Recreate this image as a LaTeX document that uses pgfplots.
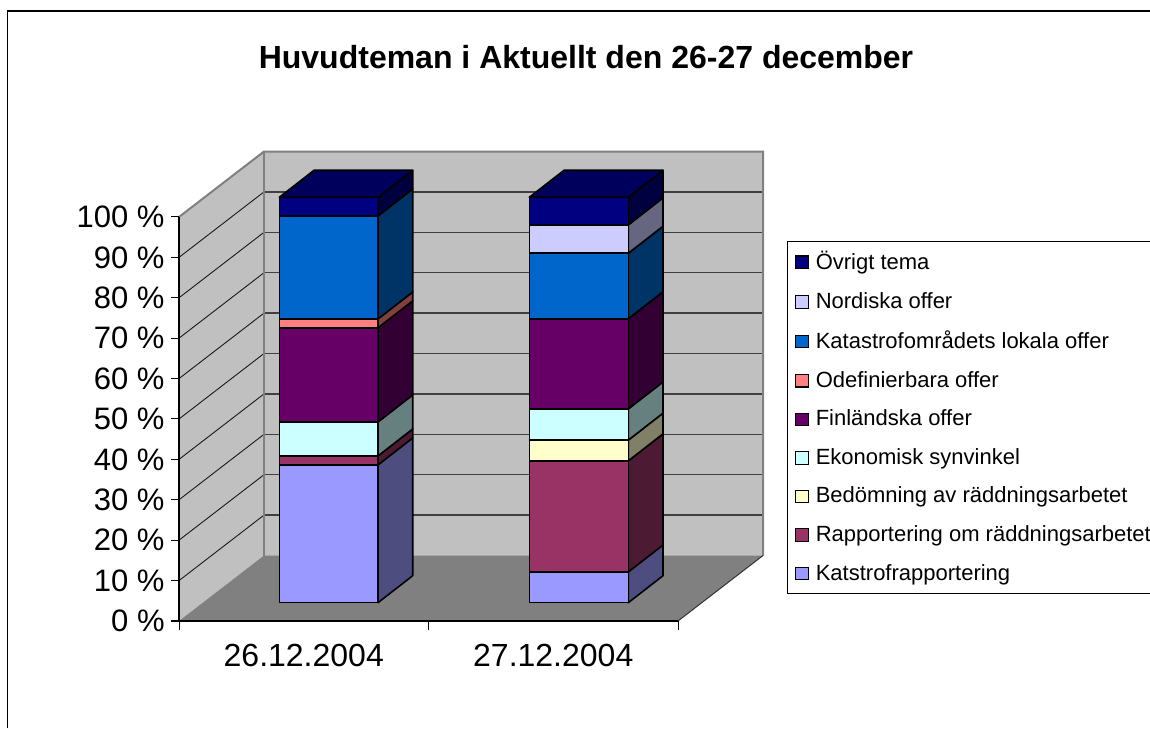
\documentclass[border=0pt]{standalone}
\usepackage{fontspec}
\setmainfont{Liberation Sans}
\usepackage{pgfplots}
\pgfplotsset{compat=1.18}
\definecolor{wall}{HTML}{C0C0C0}
\definecolor{floorc}{HTML}{808080}
\definecolor{kat}{HTML}{9999FF}\definecolor{kats}{HTML}{4D4D80}
\definecolor{rap}{HTML}{993366}\definecolor{raps}{HTML}{4D1A33}
\definecolor{bed}{HTML}{FFFFCC}\definecolor{beds}{HTML}{808066}
\definecolor{eko}{HTML}{CCFFFF}\definecolor{ekos}{HTML}{668080}
\definecolor{fin}{HTML}{660066}\definecolor{fins}{HTML}{330033}
\definecolor{ode}{HTML}{FF8080}\definecolor{odes}{HTML}{804040}
\definecolor{lok}{HTML}{0066CC}\definecolor{loks}{HTML}{003366}
\definecolor{nor}{HTML}{CCCCFF}\definecolor{nors}{HTML}{666680}
\definecolor{ovr}{HTML}{000080}\definecolor{ovrs}{HTML}{000040}\definecolor{ovrt}{HTML}{00005C}
% #1 x left, #2 x right, #3 lower, #4 upper, #5 front colour, #6 side colour
\newcommand{\seg}[6]{%
  \pgfmathsetmacro\xa{#1+0.0952}\pgfmathsetmacro\xb{#2+0.0952}\pgfmathsetmacro\xc{#2+0.0952+0.1391}%
  \pgfmathsetmacro\ya{#3*1.0035+4.53}\pgfmathsetmacro\yb{#4*1.0035+4.53}%
  \pgfmathsetmacro\yc{#3*1.0035+4.53+6.68}\pgfmathsetmacro\yd{#4*1.0035+4.53+6.68}%
  \addplot[forget plot,fill=#6,draw=black,line width=.8pt,line join=round] coordinates {(\xb,\ya)(\xc,\yc)(\xc,\yd)(\xb,\yb)} --cycle;
  \addplot[forget plot,fill=#5,draw=black,line width=.8pt,line join=round] coordinates {(\xa,\ya)(\xb,\ya)(\xb,\yb)(\xa,\yb)} --cycle;
}
\newcommand{\topface}[2]{%
  \pgfmathsetmacro\xa{#1+0.0952}\pgfmathsetmacro\xb{#2+0.0952}\pgfmathsetmacro\xc{#2+0.0952+0.1391}\pgfmathsetmacro\xd{#1+0.0952+0.1391}%
  \pgfmathsetmacro\yb{100*1.0035+4.53}\pgfmathsetmacro\yd{100*1.0035+4.53+6.68}%
  \addplot[forget plot,fill=ovrt,draw=black,line width=.8pt,line join=round] coordinates {(\xa,\yb)(\xb,\yb)(\xc,\yd)(\xd,\yd)} --cycle;
}
\begin{document}
\begin{tikzpicture}[x=.5pt,y=.5pt]
\useasboundingbox (0,0) rectangle (1150,728);
\fill[white] (0,0) rectangle (1150,728);
\draw[black,line width=.75pt] (7.5,0) -- (7.5,717) -- (1150,717);
\node[font=\bfseries\fontsize{16}{19}\selectfont,anchor=center] at (586,671) {Huvudteman i Aktuellt den 26-27 december};
\begin{axis}[
  at={(89.5pt,53.5pt)},anchor=south west,
  scale only axis,width=249.5pt,height=202pt,
  xmin=0,xmax=2,ymin=0,ymax=100,clip=false,
  axis lines=left,axis line style={-,black,line width=.6pt},axis on top,
  xtick={0.5,1.5},xticklabels={26.12.2004,27.12.2004},
  minor xtick={0,1,2},
  ytick={0,10,...,100},
  yticklabels={0 \%,10 \%,20 \%,30 \%,40 \%,50 \%,60 \%,70 \%,80 \%,90 \%,100 \%},
  major x tick style={draw=none},
  minor x tick style={black,line width=.5pt},
  y tick style={black,line width=.5pt},
  tick align=outside,
  major tick length=4pt,minor tick length=4.5pt,
  tick label style={font=\fontsize{15.5}{18}\selectfont},
  yticklabel style={inner sep=0pt,xshift=-3pt},
  xticklabel style={inner sep=0pt,yshift=-7.4pt,font=\fontsize{16}{19}\selectfont},
  legend style={at={(1.219,0.9406)},anchor=north west,draw=black,line width=.5pt,
    font=\fontsize{11}{13}\selectfont,row sep=7.8pt,inner xsep=3.5pt,inner ysep=4pt,
    fill=white,legend cell align=left,nodes={inner sep=1pt,inner xsep=3.5pt}},
  legend image code/.code={\draw[#1,line width=.6pt] (0,-3.1pt) rectangle (6.4pt,3.1pt);},
]
% walls and floor
\addplot[forget plot,fill=wall,draw=none] coordinates {(0,0)(.3407,16.21)(.3407,116.21)(0,100)} --cycle;
\addplot[forget plot,fill=wall,draw=none] coordinates {(.3407,16.21)(2.3407,16.21)(2.3407,116.21)(.3407,116.21)} --cycle;
\addplot[forget plot,fill=floorc,draw=none] coordinates {(0,0)(2,0)(2.3407,16.21)(.3407,16.21)} --cycle;
% gridlines
\foreach \p/\q in {10/26.21,20/36.21,30/46.21,40/56.21,50/66.21,60/76.21,70/86.21,80/96.21,90/106.21}{
  \edef\tmp{\noexpand\addplot[forget plot,color=black!75,line width=.7pt] coordinates {(.3407,\q)(2.3407,\q)};
  \noexpand\addplot[forget plot,color=black!90,line width=.45pt] coordinates {(0,\p)(.3407,\q)};}\tmp
}
% wall edges
\addplot[forget plot,color=floorc,line width=1pt] coordinates {(0,100)(.3407,116.21)(2.3407,116.21)(2.3407,16.21)};
\addplot[forget plot,color=floorc,line width=1pt] coordinates {(.3407,116.21)(.3407,16.21)};
\addplot[forget plot,color=black!80,line width=.5pt] coordinates {(2,0)(2.3407,16.21)};
% first bar
\seg{.3068}{.7024}{0}{34.0}{kat}{kats}
\seg{.3068}{.7024}{34.0}{36.2}{rap}{raps}
\seg{.3068}{.7024}{36.2}{44.6}{eko}{ekos}
\seg{.3068}{.7024}{44.6}{67.8}{fin}{fins}
\seg{.3068}{.7024}{67.8}{70.0}{ode}{odes}
\seg{.3068}{.7024}{70.0}{95.4}{lok}{loks}
\seg{.3068}{.7024}{95.4}{100}{ovr}{ovrs}
\topface{.3068}{.7024}
% second bar
\seg{1.3088}{1.7056}{0}{7.6}{kat}{kats}
\seg{1.3088}{1.7056}{7.6}{35.0}{rap}{raps}
\seg{1.3088}{1.7056}{35.0}{40.1}{bed}{beds}
\seg{1.3088}{1.7056}{40.1}{47.8}{eko}{ekos}
\seg{1.3088}{1.7056}{47.8}{70.05}{fin}{fins}
\seg{1.3088}{1.7056}{70.05}{86.2}{lok}{loks}
\seg{1.3088}{1.7056}{86.2}{93.2}{nor}{nors}
\seg{1.3088}{1.7056}{93.2}{100}{ovr}{ovrs}
\topface{1.3088}{1.7056}
\addlegendimage{fill=ovr,draw=black}\addlegendentry{Övrigt tema}
\addlegendimage{fill=nor,draw=black}\addlegendentry{Nordiska offer}
\addlegendimage{fill=lok,draw=black}\addlegendentry{Katastrofområdets lokala offer}
\addlegendimage{fill=ode,draw=black}\addlegendentry{Odefinierbara offer}
\addlegendimage{fill=fin,draw=black}\addlegendentry{Finländska offer}
\addlegendimage{fill=eko,draw=black}\addlegendentry{Ekonomisk synvinkel}
\addlegendimage{fill=bed,draw=black}\addlegendentry{Bedömning av räddningsarbetet}
\addlegendimage{fill=rap,draw=black}\addlegendentry{Rapportering om räddningsarbetet}
\addlegendimage{fill=kat,draw=black}\addlegendentry{Katstrofrapportering}
\end{axis}
\end{tikzpicture}
\end{document}
